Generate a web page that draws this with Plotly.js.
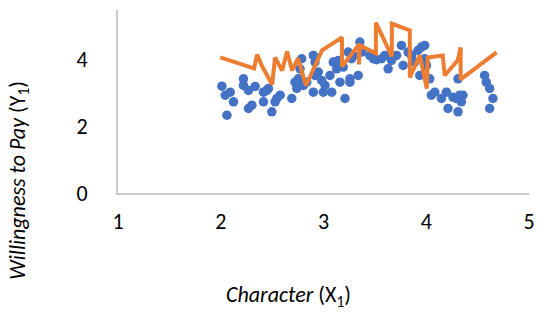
<!DOCTYPE html>
<html>
<head>
<meta charset="utf-8">
<script src="https://cdn.plot.ly/plotly-3.0.1.min.js"></script>
<style>html,body{margin:0;padding:0;background:#fff;}#chart{width:539px;height:313px;}</style>
</head>
<body>
<div id="chart"></div>
<script>
// Observed data: Character (X1) vs Willingness to Pay (Y1)
const obsX = [2.011,2.044,2.092,2.124,2.060,2.221,2.221,2.270,2.335,2.270,2.303,2.416,2.416,2.448,2.464,2.497,2.529,2.545,2.578,2.691,
  2.723,2.740,2.755,2.772,2.788,2.804,2.837,2.901,2.917,2.901,2.917,2.950,2.982,2.998,3.015,3.063,3.080,3.095,3.128,3.144,
  3.160,3.192,3.209,3.241,3.257,3.257,3.274,3.289,3.338,3.354,3.371,3.451,3.484,3.516,3.565,3.597,3.629,3.662,3.711,3.759,
  3.775,3.823,3.856,3.888,3.920,3.953,3.985,3.937,3.985,4.002,4.034,4.050,4.083,4.148,4.196,4.212,4.260,4.293,4.309,4.325,
  4.342,4.357,4.309,4.568,4.584,4.617,4.649,4.617];
const obsY = [3.20,2.93,3.02,2.73,2.33,3.42,3.22,3.07,3.19,2.53,2.63,3.02,2.73,3.07,3.13,2.43,2.73,2.83,2.93,2.83,
  3.32,3.13,3.42,3.72,4.02,3.22,3.32,4.12,3.92,3.02,3.52,3.62,3.37,3.02,3.22,3.52,3.02,3.92,3.72,3.97,
  3.32,3.77,2.83,4.22,3.42,3.32,4.02,4.12,3.52,4.52,4.22,4.12,4.02,3.99,4.02,4.12,3.72,3.97,4.12,4.42,
  3.82,4.22,4.12,3.92,4.27,4.37,4.42,3.52,4.02,3.82,3.42,2.93,3.02,2.83,3.02,2.53,2.87,2.83,2.43,2.93,
  2.73,2.93,3.42,3.52,3.32,3.13,2.83,2.53];
// Predicted values (plotted in data order)
const predX = [1.995,2.325,2.354,2.403,2.500,2.529,2.597,2.646,2.694,2.752,2.830,2.985,3.180,3.180,3.345,3.345,3.354,
  3.510,3.510,3.665,3.665,3.840,3.840,3.937,4.005,4.015,4.160,4.180,4.306,4.335,4.335,4.684];
const predY = [4.06,3.73,4.15,3.79,3.25,4.06,3.67,4.24,3.67,4.03,3.22,4.27,4.66,3.79,4.45,3.85,4.42,
  4.18,5.10,4.09,5.07,4.87,3.46,4.12,3.13,4.06,4.12,3.52,3.97,4.36,3.40,4.21];
const xTicks = [1,2,3,4,5];
const yTicks = [0,2,4];

const font = 'Carlito, "Open Sans", "Noto Sans", sans-serif';
const data = [
  {x: obsX, y: obsY, type: 'scatter', mode: 'markers',
   marker: {color: '#4472C4', size: 9.5}, hoverinfo: 'skip'},
  {x: predX, y: predY, type: 'scatter', mode: 'lines',
   line: {color: '#ED7D31', width: 4}, hoverinfo: 'skip'}
];
const layout = {
  width: 539, height: 313,
  margin: {l: 117.5, r: 9.5, t: 9.5, b: 120},
  paper_bgcolor: '#fff', plot_bgcolor: '#fff',
  showlegend: false,
  font: {family: font, size: 22, color: '#000'},
  xaxis: {range: [1, 5], tickvals: xTicks, ticktext: xTicks.map(String),
    showgrid: false, zeroline: false, showline: true, linecolor: '#C9C9C9', linewidth: 2,
    ticks: 'outside', ticklen: 8, tickcolor: 'rgba(0,0,0,0)',
    tickfont: {family: font, size: 22, color: '#000'}},
  yaxis: {range: [0, 5.48], tickvals: yTicks, ticktext: yTicks.map(String),
    showgrid: false, zeroline: false, showline: true, linecolor: '#C9C9C9', linewidth: 2,
    ticks: 'outside', ticklen: 24, tickcolor: 'rgba(0,0,0,0)',
    tickfont: {family: font, size: 22, color: '#000'}},
  annotations: [
    {text: '<i>Character</i> (X<sub>1</sub>)', xref: 'paper', yref: 'paper',
     x: (288 - 117.5) / 412, y: -(296 - 193) / 183.5, xanchor: 'center', yanchor: 'middle',
     showarrow: false, font: {family: font, size: 22, color: '#000'}},
    {text: '<i>Willingness to Pay</i> (Y<sub>1</sub>)', xref: 'paper', yref: 'paper',
     x: -(117.5 - 18) / 412, y: (193 - 180) / 183.5, xanchor: 'center', yanchor: 'middle',
     textangle: -90, showarrow: false, font: {family: font, size: 22, color: '#000'}}
  ]
};
Plotly.newPlot('chart', data, layout, {staticPlot: true, displayModeBar: false});
</script>
</body>
</html>
